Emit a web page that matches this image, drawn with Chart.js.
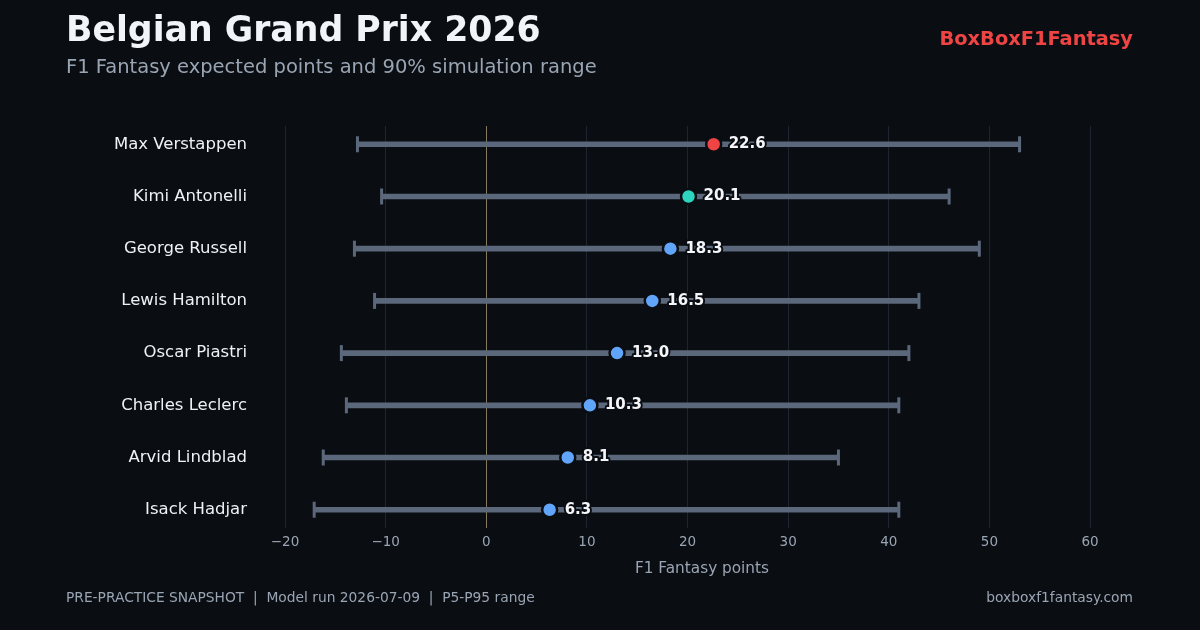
<!DOCTYPE html>
<html>
<head>
<meta charset="utf-8">
<script src="https://cdn.jsdelivr.net/npm/chart.js@4/dist/chart.umd.min.js"></script>
<style>
  html, body { margin: 0; padding: 0; background: #0a0d12; }
  body { width: 1200px; height: 630px; position: relative; overflow: hidden; font-family: "DejaVu Sans", sans-serif; }
  #wrap { position: absolute; left: 0; top: 0; width: 1200px; height: 630px; }
  .txt { position: absolute; white-space: nowrap; }
  #title { left: 66px; top: 9px; font-size: 34.7px; font-weight: bold; color: #f1f5f9; }
  #subtitle { left: 66px; top: 55px; font-size: 19.5px; color: #9aa5b4; }
  #brand { right: 67px; top: 27px; font-size: 19.4px; font-weight: bold; color: #ef4444; }
  #xtitulo { left: 602px; width: 200px; text-align: center; top: 559px; font-size: 15.3px; color: #9aa5b4; }
  #footL { left: 66px; top: 589px; font-size: 13.8px; color: #9aa5b4; }
  #footR { right: 67px; top: 589px; font-size: 13.8px; color: #9aa5b4; }
</style>
</head>
<body>
<div id="wrap"><canvas id="grafico"></canvas></div>
<div class="txt" id="title">Belgian Grand Prix 2026</div>
<div class="txt" id="subtitle">F1 Fantasy expected points and 90% simulation range</div>
<div class="txt" id="brand">BoxBoxF1Fantasy</div>
<div class="txt" id="xtitulo">F1 Fantasy points</div>
<div class="txt" id="footL">PRE-PRACTICE SNAPSHOT &nbsp;|&nbsp; Model run 2026-07-09 &nbsp;|&nbsp; P5-P95 range</div>
<div class="txt" id="footR">boxboxf1fantasy.com</div>

<script>
// dados do grafico
const pilotos = ["Max Verstappen", "Kimi Antonelli", "George Russell", "Lewis Hamilton",
                 "Oscar Piastri", "Charles Leclerc", "Arvid Lindblad", "Isack Hadjar"];
const esperado = [22.6, 20.1, 18.3, 16.5, 13.0, 10.3, 8.1, 6.3];
const p5 = [-12.8, -10.4, -13.1, -11.1, -14.4, -13.9, -16.2, -17.1];
const p95 = [53, 46, 49, 43, 42, 41, 35, 41];
const xTicks = [-20, -10, 0, 10, 20, 30, 40, 50, 60];

const bg = "#0a0d12";
const corBarra = "#5b677a";
const corPonto = ["#ef4444", "#2dd4bf", "#60a5fa", "#60a5fa", "#60a5fa", "#60a5fa", "#60a5fa", "#60a5fa"];

const fonte = "'DejaVu Sans', sans-serif";

// rotulos com o valor ao lado de cada ponto
const rotulos = {
    id: "rotulos",
    afterDatasetsDraw(chart) {
        const meta = chart.getDatasetMeta(0);
        const ctx = chart.ctx;
        ctx.save();
        ctx.font = "bold 15px " + fonte;
        ctx.textBaseline = "middle";
        ctx.textAlign = "left";
        meta.data.forEach((el, i) => {
            const txt = esperado[i].toFixed(1);
            ctx.lineWidth = 4;
            ctx.strokeStyle = bg;
            ctx.lineJoin = "round";
            ctx.strokeText(txt, el.x + 15, el.y);
            ctx.fillStyle = "#f4f6fa";
            ctx.fillText(txt, el.x + 15, el.y);
        });
        ctx.restore();
    }
};

new Chart(document.getElementById("grafico"), {
    type: "bar",
    data: {
        datasets: [
            {
                type: "scatter",
                label: "esperado",
                data: esperado.map((v, i) => ({ x: v, y: i })),
                backgroundColor: corPonto,
                borderColor: bg,
                borderWidth: 2.5,
                pointRadius: 7.5,
                pointHoverRadius: 7.5,
                order: 0
            },
            {
                type: "scatter",
                label: "limites",
                data: p5.map((v, i) => ({ x: v, y: i })).concat(p95.map((v, i) => ({ x: v, y: i }))),
                pointStyle: "line",
                rotation: 90,
                pointRadius: 8,
                borderColor: corBarra,
                borderWidth: 3,
                order: 1
            },
            {
                type: "bar",
                label: "faixa",
                indexAxis: "y",
                data: p5.map((v, i) => ({ y: i, x: [v, p95[i]] })),
                backgroundColor: corBarra,
                barThickness: 5,
                order: 2
            }
        ]
    },
    options: {
        responsive: true,
        maintainAspectRatio: false,
        animation: false,
        layout: { padding: { left: 0, top: 126, right: 110, bottom: 50 } },
        plugins: { legend: { display: false }, tooltip: { enabled: false } },
        scales: {
            x: {
                type: "linear",
                min: -20,
                max: 60,
                offset: false,
                afterBuildTicks: s => { s.ticks = xTicks.map(v => ({ value: v })); },
                afterFit: s => { s.height = 52; },
                border: { display: false },
                grid: {
                    offset: false,
                    color: c => c.tick && c.tick.value === 0 ? "#857a5a" : "#1e2531",
                    lineWidth: 1,
                    drawTicks: false
                },
                ticks: {
                    color: "#9aa5b4",
                    font: { family: fonte, size: 13.5 },
                    padding: 6,
                    callback: v => v < 0 ? "\u2212" + Math.abs(v) : String(v)
                }
            },
            y: {
                type: "linear",
                min: -0.35,
                max: 7.35,
                reverse: true,
                offset: false,
                afterBuildTicks: s => { s.ticks = pilotos.map((n, i) => ({ value: i })); },
                afterFit: s => { s.width = 285; },
                border: { display: false },
                grid: { display: false, offset: false },
                ticks: {
                    color: "#eef1f6",
                    font: { family: fonte, size: 16.5 },
                    padding: 30,
                    callback: v => pilotos[v] || ""
                }
            }
        }
    },
    plugins: [rotulos]
});
</script>
</body>
</html>
